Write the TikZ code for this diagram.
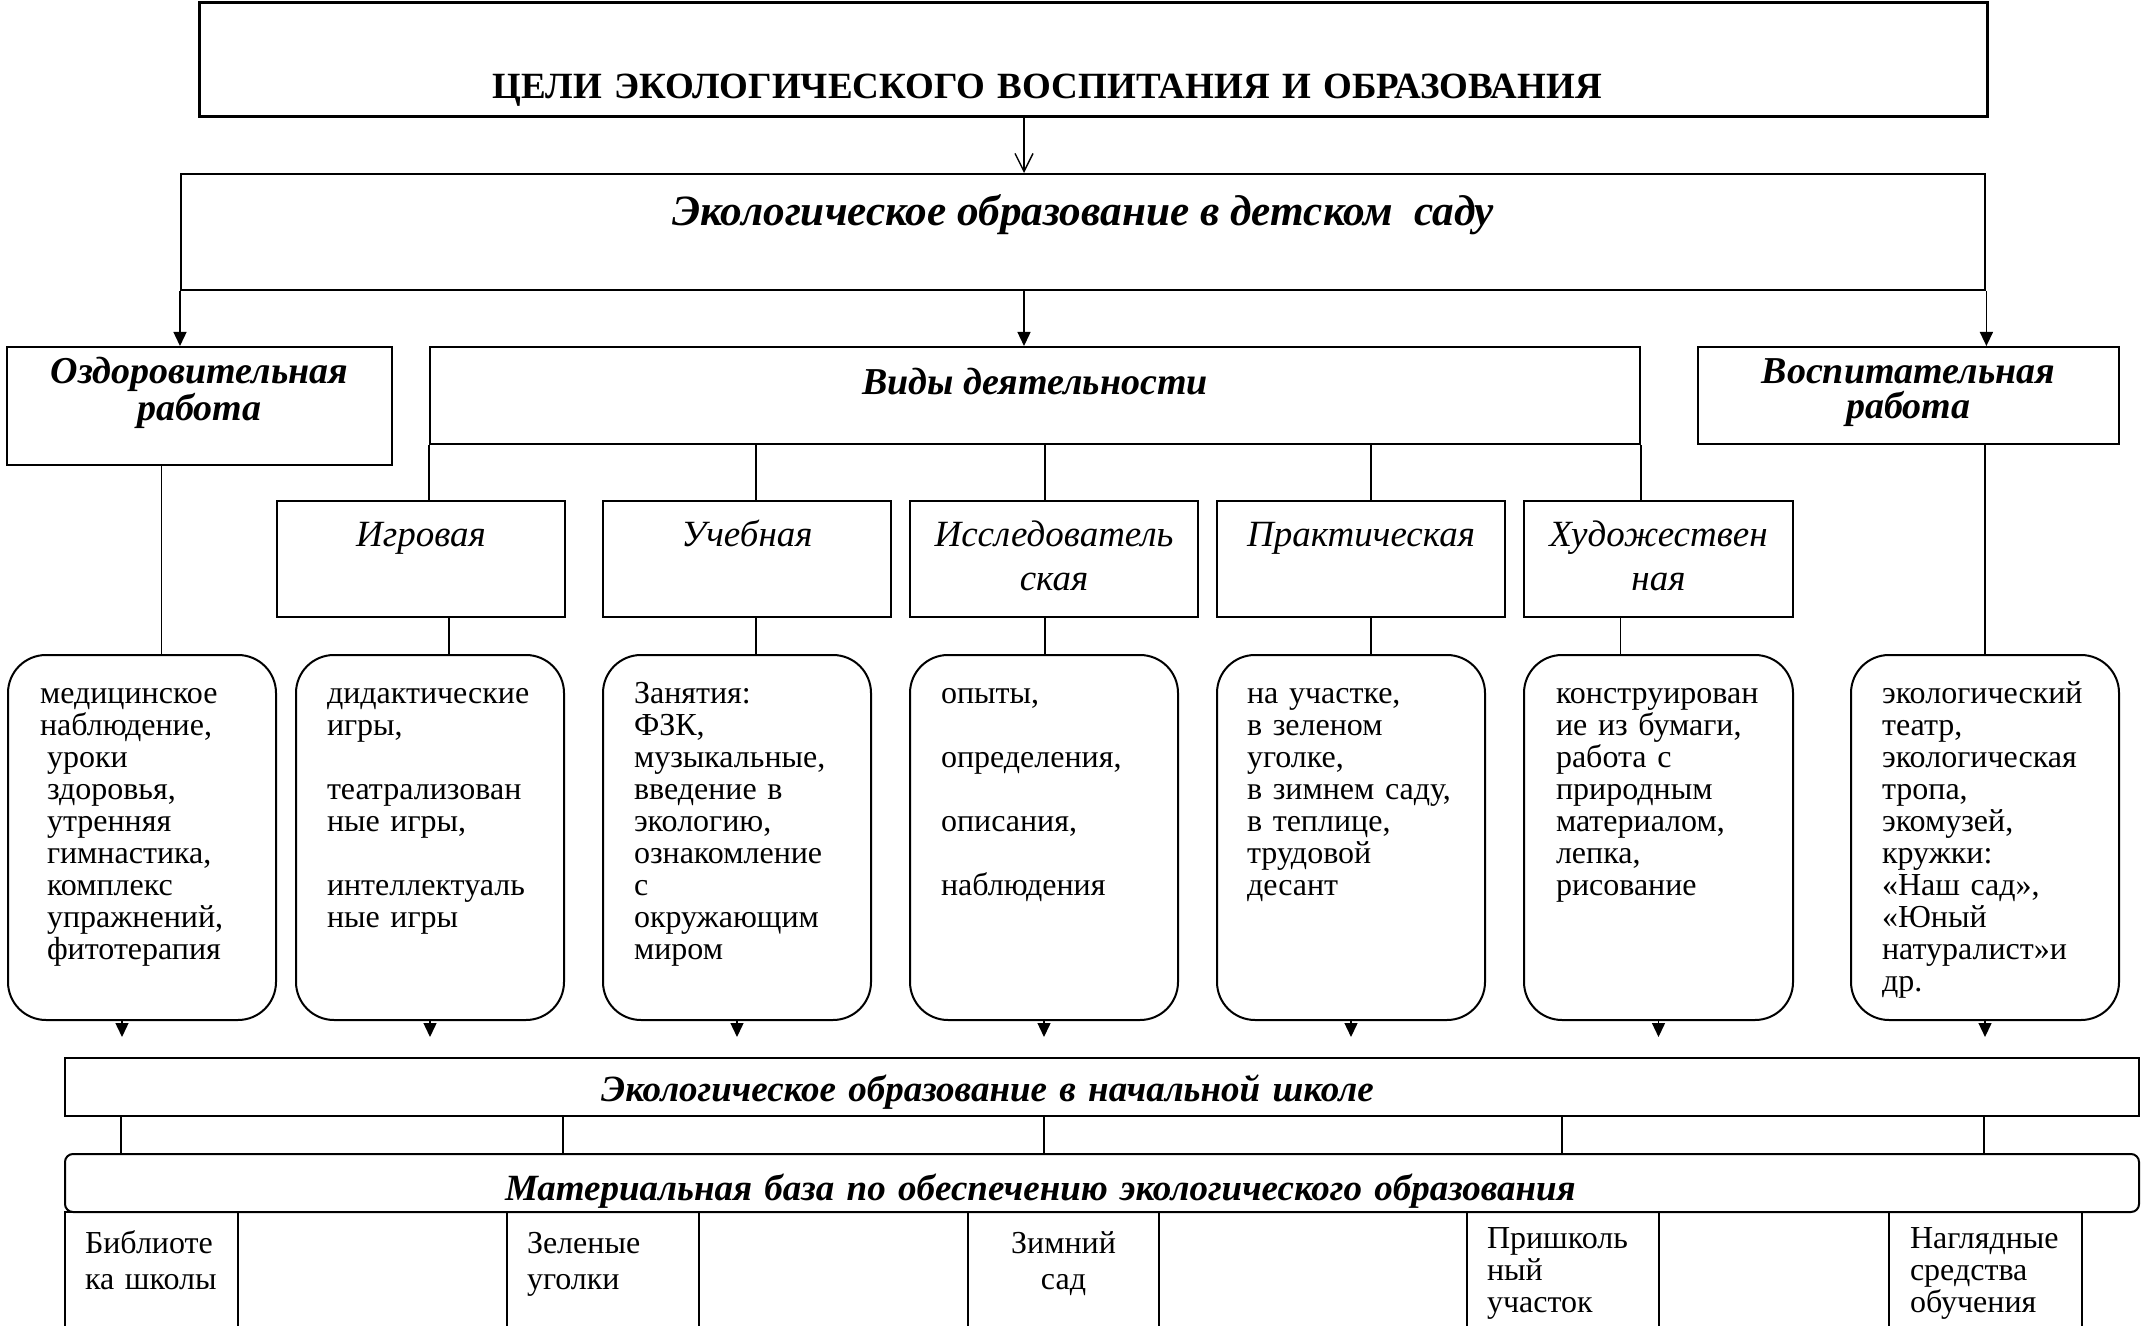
\documentclass[tikz,border=0pt]{standalone}
\usepackage{fontspec}
\setmainfont{Liberation Serif}
\usetikzlibrary{positioning, arrows.meta}
\lineskiplimit=-100pt

\begin{document}
\begin{tikzpicture}[
    % one unit is one pixel of the scheme, y runs downwards
    x=0.5pt, y=-0.5pt,
    box/.style={
        rectangle,
        draw=black,
        line width=1pt,
        anchor=north west,
        inner ysep=0pt
    },
    head font/.style={font=\fontsize{19}{17.5}\selectfont\bfseries\itshape},
    level font/.style={font=\fontsize{18.5}{20}\selectfont\bfseries\itshape},
    kind/.style={
        box,
        font=\fontsize{18.5}{22}\selectfont\itshape,
        align=center,
        inner xsep=4pt,
        text width=136pt,
        text height=22.5pt,
        text depth=35.5pt
    },
    content/.style={
        box,
        rounded corners=19pt,
        font=\fontsize{16}{16}\selectfont,
        align=left,
        inner xsep=15.5pt,
        text width=103pt,
        text height=24pt,
        text depth=158.5pt
    },
    room/.style={
        box,
        font=\fontsize{16}{18}\selectfont,
        align=left,
        inner xsep=10pt,
        text height=20.5pt,
        text depth=44.5pt
    },
    link/.style={line width=0.7pt},
    flow/.style={
        -{Triangle[length=7pt, width=6.5pt]}, % filled arrowhead
        line width=0.7pt
    }
]
    \useasboundingbox (0,0) rectangle (2145,1326);

    % --- 1. Place Nodes ---
    \node[box, line width=1.6pt, font=\fontsize{18.5}{20}\selectfont\bfseries, align=left,
          inner xsep=146.5pt, text width=601pt, text height=48pt, text depth=9pt]
        (goal) at (198,1) {ЦЕЛИ ЭКОЛОГИЧЕСКОГО ВОСПИТАНИЯ И ОБРАЗОВАНИЯ};

    \node[box, line width=1.2pt, font=\fontsize{21.6}{24}\selectfont\bfseries\itshape,
          minimum width=902pt, inner xsep=0pt, text height=25.5pt, text depth=32.5pt]
        (garden) at (180,173) {Экологическое образование в детском \ саду};

    % three branches under the kindergarten
    \node[box, head font, align=center, inner xsep=5pt, text width=182.5pt,
          text height=18pt, text depth=41pt] (health) at (6,346) {Оздоровительная\\работа};
    \node[box, head font, minimum width=605pt, inner xsep=0pt,
          text height=23.5pt, text depth=25pt] (kinds) at (429,346) {Виды деятельности};
    \node[box, head font, align=center, inner xsep=5pt, text width=200.5pt,
          text height=18pt, text depth=30.5pt] (nurture) at (1697,346) {Воспитательная\\работа};

    % kinds of activity
    \node[kind] (game) at (276,500) {Игровая};
    \node[kind] (study) at (602,500) {Учебная};
    \node[kind] (research) at (909,500) {Исследователь\\ская};
    \node[kind] (practice) at (1216,500) {Практическая};
    \node[kind, text width=126.5pt] (art) at (1523,500) {Художествен\\ная};

    % rounded lists
    \node[content, inner xsep=19.5pt, text width=95pt] (healthlist) at (7,654)
        {\hspace*{-3.5pt}медицинское\\\hspace*{-3.5pt}наблюдение,\\уроки\\здоровья,\\утренняя\\гимнастика,\\комплекс\\упражнений,\\фитотерапия};
    \node[content] (gamelist) at (295,654)
        {дидактические\\игры,\\[16pt]театрализован\\ные игры,\\[16pt]интеллектуаль\\ные игры};
    \node[content] (studylist) at (602,654)
        {Занятия:\\ФЗК,\\музыкальные,\\введение в\\экологию,\\ознакомление\\с\\окружающим\\миром};
    \node[content] (researchlist) at (909,654)
        {опыты,\\[16pt]определения,\\[16pt]описания,\\[16pt]наблюдения};
    \node[content, inner xsep=15pt, text width=104pt] (practicelist) at (1216,654)
        {на участке,\\в зеленом\\уголке,\\\mbox{в зимнем саду,}\\в теплице,\\трудовой\\десант};
    \node[content, inner xsep=16pt, text width=102.5pt] (artlist) at (1523,654)
        {конструирован\\ие из бумаги,\\работа с\\природным\\материалом,\\лепка,\\рисование};
    \node[content] (nurturelist) at (1850,654)
        {экологический\\театр,\\экологическая\\тропа,\\экомузей,\\кружки:\\«Наш сад»,\\«Юный\\натуралист»и\\др.};

    % school level
    \node[box, line width=1.2pt, level font, align=left, inner xsep=268pt, text width=501pt,
          text height=21.5pt, text depth=7.5pt] (school) at (64,1057)
        {Экологическое образование в начальной школе};
    \node[box, rounded corners=4pt, level font, align=left, inner xsep=220pt, text width=597pt,
          text height=23pt, text depth=6pt] (material) at (64,1153)
        {Материальная база по обеспечению экологического образования};

    % places of the material base
    \node[room, text width=66.5pt] (library) at (64,1211) {Библиоте\\ка школы};
    \node[room, text width=76pt] (corners) at (506,1211) {Зеленые\\уголки};
    \node[room, align=center, text width=75.5pt] (wintergarden) at (967,1211) {Зимний\\сад};
    \node[room, font=\fontsize{16}{16}\selectfont, text width=76pt,
          text height=18pt, text depth=47pt] (plot) at (1466,1211) {Пришколь\\ный\\участок};
    \node[room, font=\fontsize{16}{16}\selectfont, inner xsep=10.5pt, text width=75.5pt,
          text height=18pt, text depth=47pt] (visual) at (1888,1211) {Наглядные\\средства\\обучения};

    % --- 2. Draw Edges ---
    \coordinate (spine) at (1024,0);

    % goals -> kindergarten (open head)
    \draw[link, -{Straight Barb[length=9pt, width=9pt]}] (goal.south -| spine) -- (garden.north -| spine);

    % kindergarten -> branches
    \draw[flow] (garden.south west) -- (garden.south west |- health.north);
    \draw[flow] (garden.south -| spine) -- (kinds.north -| spine);
    \draw[flow] (garden.south east) -- (garden.south east |- nurture.north);

    % kinds -> each activity
    \draw[link] (kinds.south west) -- (kinds.south west |- game.north);
    \draw[link] ([xshift=4.5pt]study.north |- kinds.south) -- ([xshift=4.5pt]study.north);
    \draw[link] ([xshift=-4.5pt]research.north |- kinds.south) -- ([xshift=-4.5pt]research.north);
    \draw[link] ([xshift=5pt]practice.north |- kinds.south) -- ([xshift=5pt]practice.north);
    \draw[link] (kinds.south east) -- (kinds.south east |- art.north);

    % headers -> lists
    \draw[link] ([xshift=-19pt]health.south) -- ([xshift=-19pt]health.south |- healthlist.north);
    \draw[link] ([xshift=14pt]game.south) -- ([xshift=14pt]game.south |- gamelist.north);
    \draw[link] ([xshift=4.5pt]study.south) -- ([xshift=4.5pt]study.south |- studylist.north);
    \draw[link] ([xshift=-4.5pt]research.south) -- ([xshift=-4.5pt]research.south |- researchlist.north);
    \draw[link] ([xshift=5pt]practice.south) -- ([xshift=5pt]practice.south |- practicelist.north);
    \draw[link] ([xshift=-19pt]art.south) -- ([xshift=-19pt]art.south |- artlist.north);
    \draw[link] (nurturelist.north |- nurture.south) -- (nurturelist.north);

    % lists -> school (arrows stop short)
    \draw[flow, shorten >=10pt] ([xshift=-10pt]healthlist.south) -- ([xshift=-10pt]healthlist.south |- school.north);
    \foreach \n in {gamelist, studylist, researchlist, practicelist, artlist, nurturelist}
        \draw[flow, shorten >=10pt] (\n.south) -- (\n.south |- school.north);

    % school -> material base
    \foreach \x [count=\i] in {121, 563, 1044, 1562, 1984} {
        \coordinate (tie\i) at (\x,0);
        \draw[link] (school.south -| tie\i) -- (material.north -| tie\i);
    }

\end{tikzpicture}
\end{document}
